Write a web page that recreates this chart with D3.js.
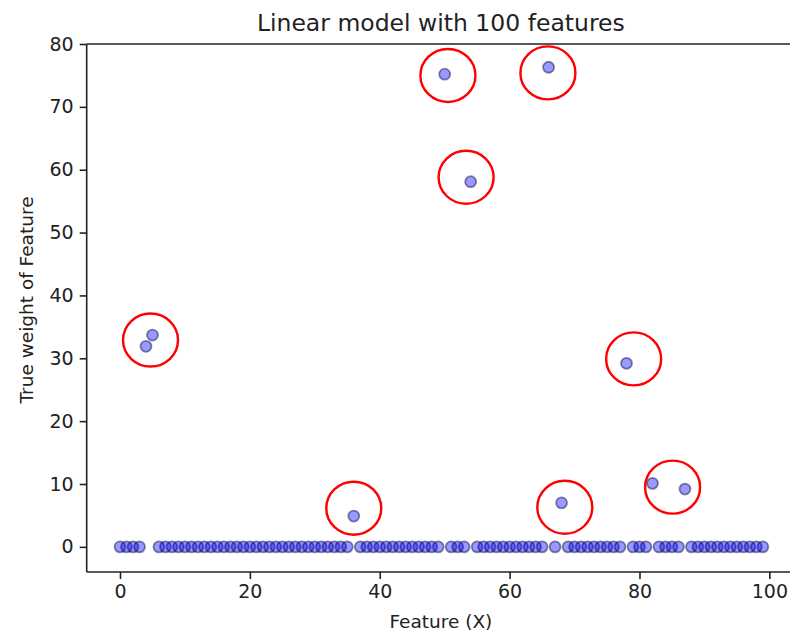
<!DOCTYPE html>
<html>
<head>
<meta charset="utf-8">
<script src="https://cdn.jsdelivr.net/npm/d3@7"></script>
<style>
  html, body { margin: 0; padding: 0; background: #fff; }
  svg { display: block; }
  text { font-family: "DejaVu Sans", sans-serif; fill: #222; }
</style>
</head>
<body>
<div id="chart"></div>
<script>
// True weight of each of the 100 features (sparse: only a few are non-zero)
const featureWeights = [
  0, 0, 0, 0, 31.9, 33.7, 0, 0, 0, 0,
  0, 0, 0, 0, 0, 0, 0, 0, 0, 0,
  0, 0, 0, 0, 0, 0, 0, 0, 0, 0,
  0, 0, 0, 0, 0, 0, 4.9, 0, 0, 0,
  0, 0, 0, 0, 0, 0, 0, 0, 0, 0,
  75.2, 0, 0, 0, 58.1, 0, 0, 0, 0, 0,
  0, 0, 0, 0, 0, 0, 76.3, 0, 7.0, 0,
  0, 0, 0, 0, 0, 0, 0, 0, 29.2, 0,
  0, 0, 10.1, 0, 0, 0, 0, 9.2, 0, 0,
  0, 0, 0, 0, 0, 0, 0, 0, 0, 0
];
const featureIndex = featureWeights.map((_, i) => i);

// Highlight rings around the informative features (centres in data units)
const highlightX = [4.7, 50.5, 65.9, 53.3, 79.1, 85.1, 68.5, 36.0];
const highlightY = [32.9, 75.0, 75.4, 58.8, 29.9, 9.5, 6.3, 6.15];

const xTicks = [0, 20, 40, 60, 80, 100];
const yTicks = [0, 10, 20, 30, 40, 50, 60, 70, 80];
const xDomain = [-5.13, 103.95];
const yDomain = [-4, 80];

const W = 790, H = 632;
const plot = { left: 86.7, right: 795, top: 44, bottom: 572 };

const svg = d3.select("#chart").append("svg")
  .attr("width", W).attr("height", H);

const x = d3.scaleLinear().domain(xDomain).range([plot.left, plot.right]);
const y = d3.scaleLinear().domain(yDomain).range([plot.bottom, plot.top]);

// Title
svg.append("text")
  .attr("x", (plot.left + plot.right) / 2)
  .attr("y", 31)
  .attr("text-anchor", "middle")
  .style("font-size", "23.5px")
  .text("Linear model with 100 features");

// Axes
const xAxis = svg.append("g")
  .attr("transform", `translate(0,${plot.bottom})`)
  .call(d3.axisBottom(x).tickValues(xTicks).tickSize(7).tickPadding(6).tickSizeOuter(0));
const yAxis = svg.append("g")
  .attr("transform", `translate(${plot.left},0)`)
  .call(d3.axisLeft(y).tickValues(yTicks).tickSize(7).tickPadding(6).tickSizeOuter(0));

[xAxis, yAxis].forEach(g => {
  g.select(".domain").remove();
  g.selectAll(".tick line").attr("stroke", "#222").attr("stroke-width", 1.6);
  g.selectAll(".tick text")
    .style("font-size", "19px")
    .style("font-family", "'DejaVu Sans', sans-serif")
    .attr("fill", "#222");
});

// Spines: left, bottom and top (the right side runs past the frame)
const spine = svg.append("g").attr("stroke", "#222").attr("stroke-width", 1.6).attr("fill", "none");
spine.append("line").attr("x1", plot.left).attr("x2", plot.left).attr("y1", plot.top).attr("y2", plot.bottom);
spine.append("line").attr("x1", plot.left).attr("x2", W).attr("y1", plot.bottom).attr("y2", plot.bottom);
spine.append("line").attr("x1", plot.left).attr("x2", W).attr("y1", plot.top).attr("y2", plot.top);

// Axis labels
svg.append("text")
  .attr("x", (plot.left + plot.right) / 2)
  .attr("y", 628)
  .attr("text-anchor", "middle")
  .style("font-size", "18.5px")
  .text("Feature (X)");

svg.append("text")
  .attr("transform", `translate(33,${300}) rotate(-90)`)
  .attr("text-anchor", "middle")
  .style("font-size", "18.5px")
  .text("True weight of Feature");

// Feature weights
svg.append("g")
  .selectAll("circle")
  .data(featureIndex)
  .join("circle")
  .attr("cx", i => x(i))
  .attr("cy", i => y(featureWeights[i]))
  .attr("r", 5.5)
  .attr("fill", "rgba(0,0,255,0.4)")
  .attr("stroke", "rgba(0,0,60,0.45)")
  .attr("stroke-width", 1.8);

// Highlight rings
svg.append("g")
  .selectAll("ellipse")
  .data(highlightX)
  .join("ellipse")
  .attr("cx", (d, i) => x(d))
  .attr("cy", (d, i) => y(highlightY[i]))
  .attr("rx", 27.5)
  .attr("ry", 26.5)
  .attr("fill", "none")
  .attr("stroke", "#f00")
  .attr("stroke-width", 2.4);
</script>
</body>
</html>
